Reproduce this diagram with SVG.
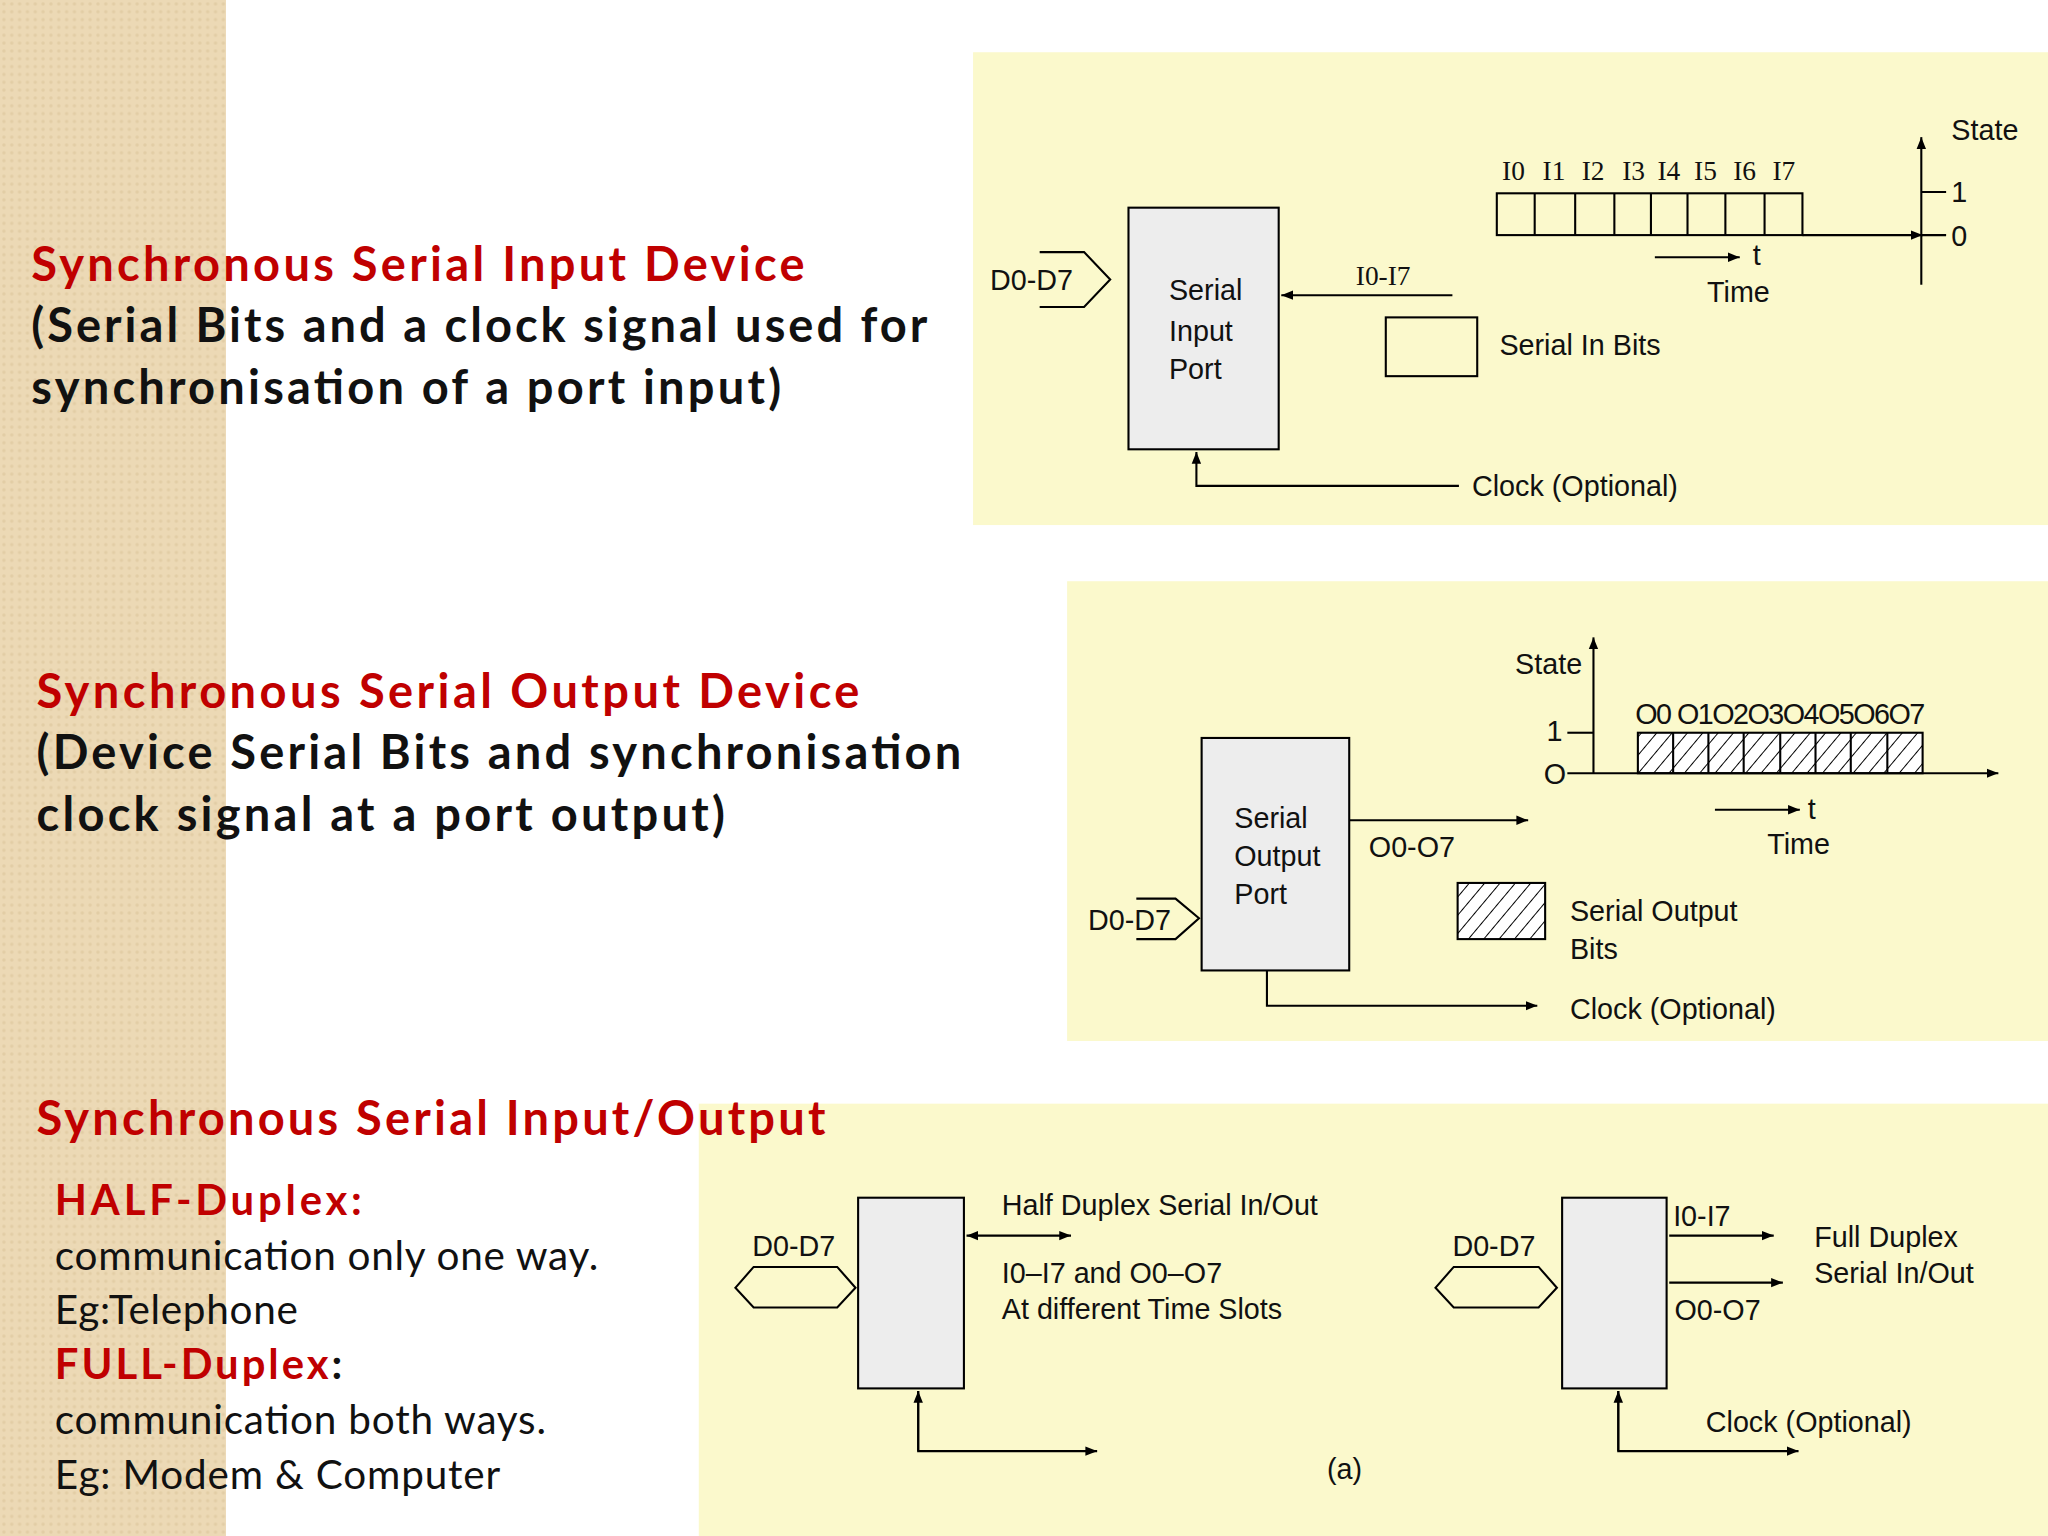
<svg xmlns="http://www.w3.org/2000/svg" width="2048" height="1536" viewBox="0 0 2048 1536">
<defs>
<style>
.ln{stroke:#000;stroke-width:1.6;fill:none}
.bx{stroke:#000;stroke-width:1.6;fill:#ededed}
.t{font-family:"Liberation Sans",Arial,sans-serif;font-size:22px;fill:#111}
.s{font-family:"Liberation Serif",serif;font-size:21px;fill:#111}
.h{font-family:"Lato","Open Sans",sans-serif;font-weight:bold;font-size:36px}
.r{fill:#c00000}
.k{fill:#111}
.b{font-family:"Lato","Open Sans",sans-serif;font-size:31px;fill:#111}
</style>
<marker id="a" viewBox="0 0 10 10" refX="10" refY="5" markerWidth="9" markerHeight="9" orient="auto-start-reverse" markerUnits="userSpaceOnUse"><path d="M0,1 L10,5 L0,9 Z" fill="#000"/></marker>
<pattern id="hp" width="9" height="9" patternUnits="userSpaceOnUse" patternTransform="rotate(40)"><rect width="9" height="9" fill="#fff"/><line x1="0" y1="0" x2="0" y2="9" stroke="#000" stroke-width="1.5"/></pattern>
<pattern id="tx" width="6" height="6" patternUnits="userSpaceOnUse"><rect width="6" height="6" fill="#ecd9b5"/><circle cx="3" cy="3" r="1.3" fill="#e2cda5"/></pattern>
</defs>
<rect width="2048" height="1536" fill="#fff"/>
<g transform="scale(1.30612)">
<rect x="0" y="0" width="173" height="1176" fill="url(#tx)"/>
<rect x="745" y="40" width="823" height="362" fill="#fbf9cc"/>
<rect x="817" y="445" width="751" height="352" fill="#fbf9cc"/>
<rect x="535" y="845" width="1033" height="331" fill="#fbf9cc"/>

<g id="left-text">
<text class="h r" x="24" y="215" textLength="592">Synchronous Serial Input Device</text>
<text class="h k" x="24" y="262" textLength="686">(Serial Bits and a clock signal used for</text>
<text class="h k" x="24" y="309" textLength="574">synchronisation of a port input)</text>
<text class="h r" x="28" y="542" textLength="630">Synchronous Serial Output Device</text>
<text class="h k" x="28" y="589" textLength="708">(Device Serial Bits and synchronisation</text>
<text class="h k" x="28" y="636" textLength="527">clock signal at a port output)</text>
<text class="h r" x="28" y="869" textLength="604">Synchronous Serial Input/Output</text>
<text class="h r" x="42" y="930" style="font-size:32px" textLength="235">HALF-Duplex:</text>
<text class="b" x="42" y="972" textLength="416">communication only one way.</text>
<text class="b" x="42" y="1014" textLength="186">Eg:Telephone</text>
<text class="h r" x="42" y="1056" style="font-size:32px" textLength="220">FULL-Duplex<tspan class="k">:</tspan></text>
<text class="b" x="42" y="1098" textLength="376">communication both ways.</text>
<text class="b" x="42" y="1140" textLength="341">Eg: Modem &amp; Computer</text>
</g>

<g id="input-port">
<polyline class="ln" points="796,193 830,193 850,214 830,235 796,235"/>
<text class="t" x="758" y="222">D0-D7</text>
<rect class="bx" x="864" y="159" width="115" height="185"/>
<text class="t" x="895" y="230">Serial</text>
<text class="t" x="895" y="261">Input</text>
<text class="t" x="895" y="290">Port</text>
<rect class="ln" x="1061" y="243" width="70" height="45"/>
<text class="t" x="1148" y="272">Serial In Bits</text>
<text class="t" x="1127" y="380">Clock (Optional)</text>
<text class="s" x="1038" y="218">I0-I7</text>
<g class="ln">
<rect x="1146" y="148" width="234" height="32"/>
<path d="M1175,148V180M1206,148V180M1236,148V180M1264,148V180M1292,148V180M1321,148V180M1351,148V180"/>
<path d="M1471,147H1490M1471,180H1490"/>
</g>
<g class="s"><text x="1150" y="138">I0</text><text x="1181" y="138">I1</text><text x="1211" y="138">I2</text><text x="1242" y="138">I3</text><text x="1269" y="138">I4</text><text x="1297" y="138">I5</text><text x="1327" y="138">I6</text><text x="1357" y="138">I7</text></g>
<text class="t" x="1494" y="107">State</text>
<text class="t" x="1494" y="155">1</text>
<text class="t" x="1494" y="188">0</text>
<text class="t" x="1342" y="203">t</text>
<text class="t" x="1307" y="231">Time</text>
</g>

<g id="output-port">
<rect class="bx" x="920" y="565" width="113" height="178"/>
<text class="t" x="945" y="634">Serial</text>
<text class="t" x="945" y="663">Output</text>
<text class="t" x="945" y="692">Port</text>
<polyline class="ln" points="870,688 900,688 918,703 900,719 870,719"/>
<text class="t" x="833" y="712">D0-D7</text>
<text class="t" x="1048" y="656">O0-O7</text>
<text class="t" x="1160" y="516">State</text>
<text class="t" x="1184" y="567">1</text>
<text class="t" x="1182" y="600">O</text>
<path class="ln" d="M1200,561H1220"/>
<rect x="1254" y="561" width="218" height="31" fill="url(#hp)" stroke="#000" stroke-width="1.6"/>
<path class="ln" d="M1281,561V592M1308,561V592M1335,561V592M1363,561V592M1390,561V592M1417,561V592M1445,561V592"/>
<text class="t" x="1252" y="554" textLength="222">O0 O1O2O3O4O5O6O7</text>
<text class="t" x="1384" y="627">t</text>
<text class="t" x="1353" y="654">Time</text>
<rect x="1116" y="676" width="67" height="43" fill="url(#hp)" stroke="#000" stroke-width="1.6"/>
<text class="t" x="1202" y="705">Serial Output</text>
<text class="t" x="1202" y="734">Bits</text>
<text class="t" x="1202" y="780">Clock (Optional)</text>
</g>

<g id="half-duplex">
<polygon class="ln" points="563,986 577,970 641,970 655,986 641,1001 577,1001"/>
<text class="t" x="576" y="962">D0-D7</text>
<rect class="bx" x="657" y="917" width="81" height="146"/>
<text class="t" x="767" y="930">Half Duplex Serial In/Out</text>
<text class="t" x="767" y="982">I0–I7 and O0–O7</text>
<text class="t" x="767" y="1010">At different Time Slots</text>
<text class="t" x="1016" y="1132">(a)</text>
</g>

<g id="full-duplex">
<polygon class="ln" points="1099,986 1113,970 1178,970 1192,986 1178,1001 1113,1001"/>
<text class="t" x="1112" y="962">D0-D7</text>
<rect class="bx" x="1196" y="917" width="80" height="146"/>
<text class="t" x="1281" y="939">I0-I7</text>
<text class="t" x="1282" y="1011">O0-O7</text>
<text class="t" x="1389" y="955">Full Duplex</text>
<text class="t" x="1389" y="982">Serial In/Out</text>
<text class="t" x="1306" y="1096">Clock (Optional)</text>
</g>

<g id="connectors" class="ln">
<path d="M1112,226H981" marker-end="url(#a)"/>
<path d="M1117,372H916V346" marker-end="url(#a)"/>
<path d="M1380,180H1472" marker-end="url(#a)"/>
<path d="M1471,218V105" marker-end="url(#a)"/>
<path d="M1267,197H1332" marker-end="url(#a)"/>
<path d="M1033,628H1170" marker-end="url(#a)"/>
<path d="M1220,592V488" marker-end="url(#a)"/>
<path d="M1200,592H1530" marker-end="url(#a)"/>
<path d="M1313,620H1378" marker-end="url(#a)"/>
<path d="M970,743V770H1177" marker-end="url(#a)"/>
<path d="M740,946H820" marker-start="url(#a)" marker-end="url(#a)"/>
<path d="M703,1065V1111H840" marker-end="url(#a)"/>
<path d="M703,1111V1065" marker-end="url(#a)"/>
<path d="M1278,946H1358" marker-end="url(#a)"/>
<path d="M1278,982H1365" marker-end="url(#a)"/>
<path d="M1239,1065V1111H1377" marker-end="url(#a)"/>
<path d="M1239,1111V1065" marker-end="url(#a)"/>
</g>
</g>
</svg>
